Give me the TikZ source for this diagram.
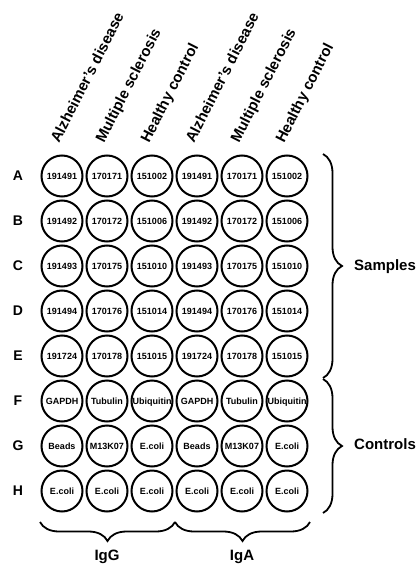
\documentclass[tikz,border=0pt]{standalone}
\usepackage{fontspec}
\setmainfont{Liberation Sans}
\usetikzlibrary{decorations.pathreplacing}
\begin{document}
\begin{tikzpicture}[x=1pt,y=-1pt,
  well/.style={circle,draw,line width=2pt,minimum size=41pt,inner sep=0pt,
    font=\bfseries\fontsize{9}{9}\selectfont,text height=6.5pt,text depth=0pt},
  rowlab/.style={font=\bfseries\fontsize{14}{14}\selectfont,inner sep=0pt},
  collab/.style={font=\bfseries\fontsize{15}{15}\selectfont,inner sep=0pt,
    anchor=base west,rotate=63},
  grouplab/.style={font=\bfseries\fontsize{15}{15}\selectfont,inner sep=0pt},
  bracepath/.style={decorate,decoration={brace,amplitude=19pt},line width=1.8pt}]
\useasboundingbox (0,0) rectangle (416,564);

% column headings
\foreach \x/\t [count=\j] in {62/Alzheimer's disease,107/Multiple sclerosis,
    152/Healthy control,197/Alzheimer's disease,242/Multiple sclerosis,
    287/Healthy control}
  \node[collab] (col-\j) at (\x-3,144) {\t};

% plate rows: label and six wells (IgG columns 1-3, IgA columns 4-6)
\foreach \r/\y/\a/\b/\c in {A/176/191491/170171/151002,
    B/221/191492/170172/151006, C/266/191493/170175/151010,
    D/311/191494/170176/151014, E/356/191724/170178/151015,
    F/401/GAPDH/Tubulin/Ubiquitin, G/446/Beads/M13K07/E.coli,
    H/491/E.coli/E.coli/E.coli} {
  \node[rowlab] (lab-\r) at (18,\y) {\r};
  \node[well] (w-\r-1) at (62,\y)  {\a};
  \node[well] (w-\r-2) at (107,\y) {\b};
  \node[well] (w-\r-3) at (152,\y) {\c};
  \node[well] (w-\r-4) at (197,\y) {\a};
  \node[well] (w-\r-5) at (242,\y) {\b};
  \node[well] (w-\r-6) at (287,\y) {\c};
}

% brace end points
\coordinate (sTop) at (323,154);
\coordinate (sBot) at (323,378);
\coordinate (cTop) at (323,379);
\coordinate (cBot) at (323,513);
\coordinate (gL) at (40,522);
\coordinate (gR) at (175,522);
\coordinate (aL) at (175,522);
\coordinate (aR) at (310,522);

\draw[bracepath] (sTop) -- (sBot);
\draw[bracepath] (cTop) -- (cBot);
\draw[bracepath] (gR) -- (gL);
\draw[bracepath] (aR) -- (aL);

% group labels
\node[grouplab,anchor=base west] (samples) at (354,270) {Samples};
\node[grouplab,anchor=base west] (controls) at (354,449) {Controls};
\node[grouplab,anchor=base] (igg) at (107,560) {IgG};
\node[grouplab,anchor=base] (iga) at (242,560) {IgA};
\end{tikzpicture}
\end{document}
